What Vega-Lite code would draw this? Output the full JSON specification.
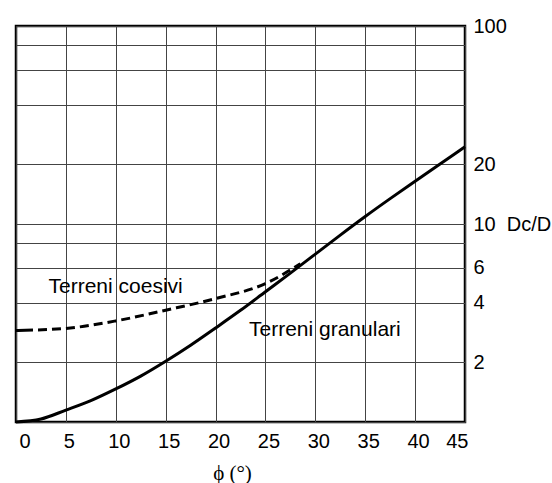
{
  "$schema": "https://vega.github.io/schema/vega-lite/v6.json",
  "autosize": "none",
  "width": 449,
  "height": 396,
  "padding": {"left": 16, "top": 26, "right": 87, "bottom": 61},
  "background": "white",
  "config": {
    "view": {"stroke": "black", "strokeWidth": 2.5},
    "font": "Liberation Sans"
  },
  "datasets": {
    "curves": [
      {"series": "granulari", "phi": 0, "dcd": 1.0},
      {"series": "granulari", "phi": 2.5, "dcd": 1.035},
      {"series": "granulari", "phi": 5, "dcd": 1.148},
      {"series": "granulari", "phi": 7.5, "dcd": 1.282},
      {"series": "granulari", "phi": 10, "dcd": 1.469},
      {"series": "granulari", "phi": 12.5, "dcd": 1.706},
      {"series": "granulari", "phi": 15, "dcd": 2.028},
      {"series": "granulari", "phi": 17.5, "dcd": 2.443},
      {"series": "granulari", "phi": 20, "dcd": 2.985},
      {"series": "granulari", "phi": 22.5, "dcd": 3.664},
      {"series": "granulari", "phi": 25, "dcd": 4.55},
      {"series": "granulari", "phi": 27.5, "dcd": 5.649},
      {"series": "granulari", "phi": 30, "dcd": 7.047},
      {"series": "granulari", "phi": 32.5, "dcd": 8.79},
      {"series": "granulari", "phi": 35, "dcd": 10.91},
      {"series": "granulari", "phi": 37.5, "dcd": 13.43},
      {"series": "granulari", "phi": 40, "dcd": 16.44},
      {"series": "granulari", "phi": 42.5, "dcd": 20.09},
      {"series": "granulari", "phi": 45, "dcd": 24.55},
      {"series": "coesivi", "phi": 0, "dcd": 2.9},
      {"series": "coesivi", "phi": 5, "dcd": 2.97},
      {"series": "coesivi", "phi": 10, "dcd": 3.24},
      {"series": "coesivi", "phi": 15, "dcd": 3.67},
      {"series": "coesivi", "phi": 20, "dcd": 4.2},
      {"series": "coesivi", "phi": 25, "dcd": 5.0},
      {"series": "coesivi", "phi": 28.5, "dcd": 6.3}
    ],
    "labels": [
      {"phi": 3.26, "dcd": 4.81, "text": "Terreni coesivi"},
      {"phi": 23.35, "dcd": 2.91, "text": "Terreni granulari"}
    ]
  },
  "layer": [
    {
      "data": {"name": "curves"},
      "transform": [{"filter": "datum.series === 'granulari'"}],
      "mark": {"type": "line", "color": "black", "strokeWidth": 3, "interpolate": "monotone"},
      "encoding": {
        "x": {
          "field": "phi", "type": "quantitative",
          "scale": {"domain": [0, 45], "nice": false},
          "axis": {
            "values": [0, 5, 10, 15, 20, 25, 30, 35, 40, 45],
            "grid": true, "gridColor": "#444", "gridWidth": 1, "gridOpacity": 1,
            "domain": false, "ticks": false, "labelPadding": 9, "labelOffset": 3,
            "labelFontSize": 20, "labelColor": "black", "labelFont": "Liberation Sans",
            "title": "ϕ (°)", "titleFont": "Liberation Serif", "titleFontSize": 21,
            "titleFontWeight": "normal", "titleColor": "black", "titlePadding": 11,
            "titleX": 216
          }
        },
        "y": {
          "field": "dcd", "type": "quantitative",
          "scale": {"type": "log", "domain": [1, 100], "nice": false},
          "axis": {
            "orient": "right",
            "values": [1, 2, 4, 6, 8, 10, 20, 40, 60, 80, 100],
            "labelExpr": "datum.value == 10 ? '10\u00a0\u00a0Dc/D' : (indexof([2,4,6,20,100], datum.value) >= 0 ? datum.label : '')",
            "grid": true, "gridColor": "#444", "gridWidth": 1, "gridOpacity": 1,
            "domain": false, "ticks": false, "labelPadding": 8,
            "labelFontSize": 20, "labelColor": "black", "labelFont": "Liberation Sans",
            "labelAlign": "left", "labelBaseline": "middle",
            "title": null
          }
        }
      }
    },
    {
      "data": {"name": "curves"},
      "transform": [{"filter": "datum.series === 'coesivi'"}],
      "mark": {"type": "line", "color": "black", "strokeWidth": 3, "interpolate": "monotone",
               "strokeDash": [17, 5, 9, 5, 9, 5, 9, 5, 9, 5, 9, 5, 9, 5, 9, 5, 9, 5, 9, 5, 9, 5, 9, 5, 9, 5, 9, 5, 9, 5, 9, 5, 9, 5, 9, 5, 9, 5, 9, 5, 9, 5, 9, 5, 9, 5, 9, 5, 9, 5]},
      "encoding": {
        "x": {"field": "phi", "type": "quantitative"},
        "y": {"field": "dcd", "type": "quantitative"}
      }
    },
    {
      "data": {"name": "labels"},
      "mark": {"type": "text", "align": "left", "baseline": "middle", "fontSize": 21, "font": "Liberation Sans", "color": "black"},
      "encoding": {
        "x": {"field": "phi", "type": "quantitative"},
        "y": {"field": "dcd", "type": "quantitative"},
        "text": {"field": "text"}
      }
    }
  ]
}
